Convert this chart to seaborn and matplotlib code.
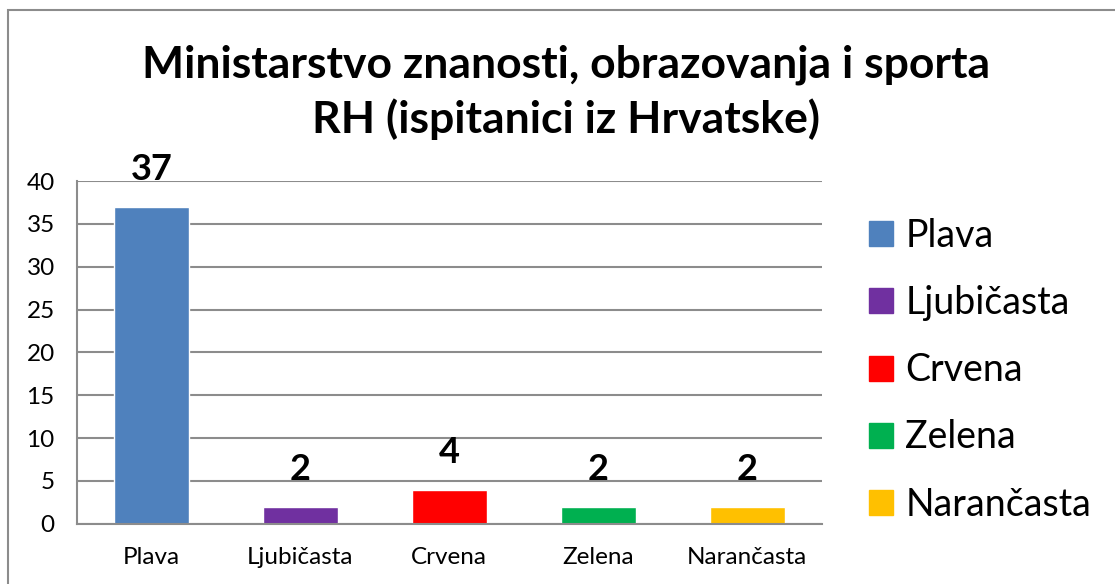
import matplotlib
matplotlib.use("Agg")
import matplotlib.pyplot as plt
import matplotlib.patches as mpatches
import pandas as pd
import seaborn as sns

boje = ["Plava", "Ljubičasta", "Crvena", "Zelena", "Narančasta"]
broj = [37, 2, 4, 2, 2]
paleta = ["#4F81BD", "#7030A0", "#FF0000", "#00B050", "#FFC000"]
y_ticks = [0, 5, 10, 15, 20, 25, 30, 35, 40]
naslov = "Ministarstvo znanosti, obrazovanja i sporta\nRH (ispitanici iz Hrvatske)"

df = pd.DataFrame({"Boja": boje, "Broj": broj})

sns.set_style("white")
plt.rcParams["font.family"] = ["Lato", "DejaVu Sans"]
plt.rcParams["text.color"] = "black"
plt.rcParams["xtick.color"] = "black"
plt.rcParams["ytick.color"] = "black"

fig = plt.figure(figsize=(11.15, 5.84), dpi=100)
ax = fig.add_axes([0.069, 0.103, 0.668, 0.587])

sns.barplot(data=df, x="Boja", y="Broj", hue="Boja", palette=paleta,
            width=0.5, ax=ax, legend=False, saturation=1)

for c in ax.containers:
    ax.bar_label(c, padding=15, fontsize=26, fontweight="bold")

ax.set_ylim(0, 40)
ax.set_yticks(y_ticks)
ax.set_xlim(-0.5, 4.5)
ax.set_xlabel("")
ax.set_ylabel("")
ax.grid(axis="y", color="#8c8c8c", linewidth=1.5)
ax.set_axisbelow(True)
for s in ["top", "right"]:
    ax.spines[s].set_visible(False)
for s in ["left", "bottom"]:
    ax.spines[s].set_color("#8c8c8c")
    ax.spines[s].set_linewidth(1.5)

ax.tick_params(axis="y", length=6, width=1.5, color="#8c8c8c", labelsize=17.5, pad=10)
ax.tick_params(axis="x", length=0, labelsize=17.5, pad=17)
# ticks between categories
ax.set_xticks([i - 0.5 for i in range(len(boje) + 1)], minor=True)
ax.tick_params(axis="x", which="minor", length=6, width=1.5, color="#8c8c8c", direction="out")

handles = [mpatches.Patch(color=p, label=b) for b, p in zip(boje, paleta)]
fig.legend(handles=handles, loc="center left", bbox_to_anchor=(0.749, 0.366),
           frameon=False, fontsize=27, handlelength=0.65, handleheight=0.65,
           handletextpad=0.32, labelspacing=0.83)

fig.text(0.508, 0.842, naslov, ha="center", va="center", fontsize=32,
         fontweight="bold", linespacing=1.4)

fig.patches.append(mpatches.Rectangle((8 / 1115, -0.1), 1.2, (574 / 584) + 0.1,
                                      transform=fig.transFigure, fill=False,
                                      edgecolor="#8c8c8c", linewidth=1.5))

fig.savefig("out.png", dpi=100)
